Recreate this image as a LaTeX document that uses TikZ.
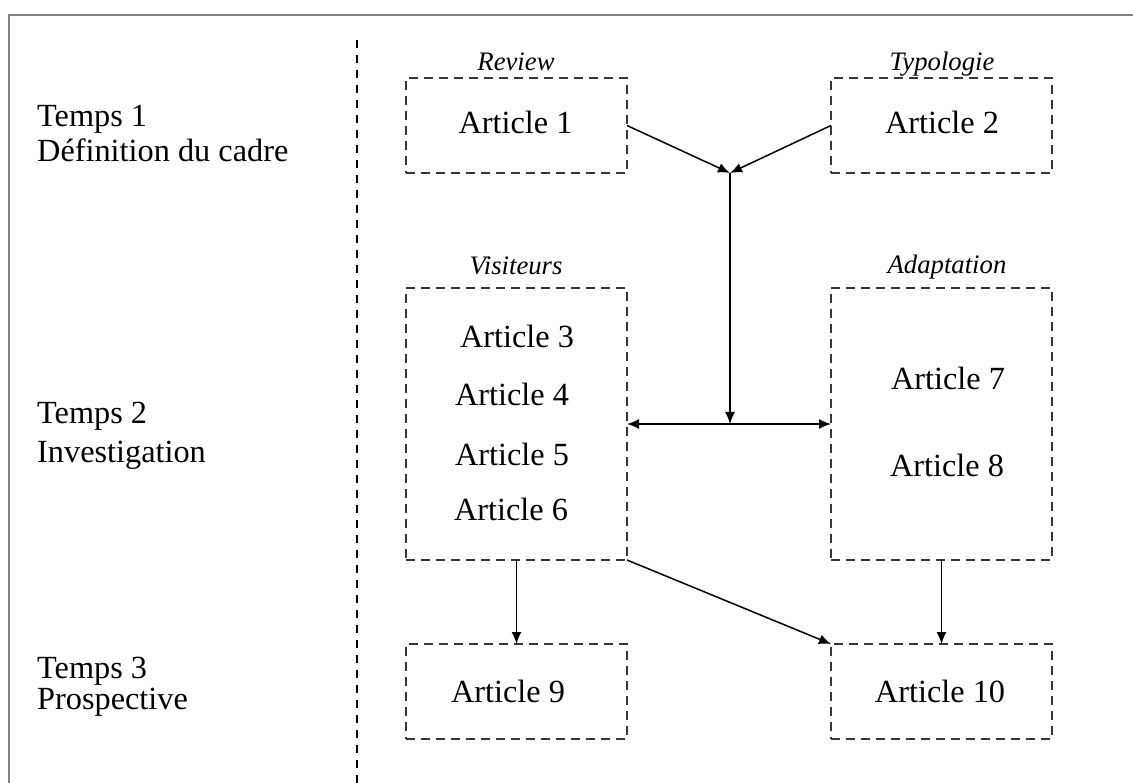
\documentclass[tikz,border=0pt]{standalone}
\usepackage{fontspec}
\setmainfont{Liberation Serif}
\usetikzlibrary{arrows.meta}
\definecolor{dashgray}{RGB}{55,55,55}
\definecolor{framegray}{RGB}{130,130,130}
\tikzset{
  box/.style={draw=dashgray, line width=1.6pt, dash pattern=on 9pt off 6pt, inner sep=0pt, outer sep=0pt, minimum width=221pt},
  txt/.style={anchor=base, inner sep=0pt, font=\fontsize{32.3}{38}\selectfont},
  lbl/.style={anchor=base west, inner sep=0pt, font=\fontsize{32.3}{38}\selectfont},
  ital/.style={anchor=base, inner sep=0pt, font=\fontsize{26.7}{31}\selectfont\itshape},
  conn/.style={draw=black, line width=1.5pt, -{Latex[length=12pt,width=10pt]}},
  dconn/.style={draw=black, line width=1.5pt, {Latex[length=12pt,width=10pt]}-{Latex[length=12pt,width=10pt]}},
  sep/.style={draw=black, line width=1.2pt, dash pattern=on 8pt off 7pt}
}
\begin{document}
\begin{tikzpicture}[x=1pt,y=-1pt]
\useasboundingbox[fill=white] (0,0) rectangle (1133,783);
% frame
\draw[framegray, line width=2.2pt] (9,783) -- (9,15) -- (1133,15);
% separator
\coordinate (s1) at (357,40);
\coordinate (s2) at (357,783);
\draw[sep] (s1) -- (s2);
% left labels
\node[lbl] (l1a) at (37,127) {Temps 1};
\node[lbl] (l1b) at (37,162) {Définition du cadre};
\node[lbl] (l2a) at (37,424) {Temps 2};
\node[lbl] (l2b) at (37,463) {Investigation};
\node[lbl] (l3a) at (37,678) {Temps 3};
\node[lbl] (l3b) at (37,709) {Prospective};
% boxes
\node[box, minimum height=95pt] (b1) at (516.5,125.5) {};
\node[box, minimum height=95pt] (b2) at (941.5,125.5) {};
\node[box, minimum height=272pt] (bv) at (516.5,424) {};
\node[box, minimum height=272pt] (ba) at (941.5,424) {};
\node[box, minimum height=95pt] (b9) at (516.5,691.5) {};
\node[box, minimum height=95pt] (b10) at (941.5,691.5) {};
% italic headings
\node[ital] (h1) at (516,71) {Review};
\node[ital] (h2) at (942,71) {Typologie};
\node[ital] (h3) at (516,275) {Visiteurs};
\node[ital] (h4) at (947,274) {Adaptation};
% texts
\node[txt] (a1) at (515.5,134) {Article 1};
\node[txt] (a2) at (942,134) {Article 2};
\node[txt] (a3) at (517,348) {Article 3};
\node[txt] (a4) at (512,406) {Article 4};
\node[txt] (a5) at (512,465) {Article 5};
\node[txt] (a6) at (511,520) {Article 6};
\node[txt] (a7) at (948,390) {Article 7};
\node[txt] (a8) at (947,477) {Article 8};
\node[txt] (a9) at (508,702) {Article 9};
\node[txt] (a10) at (940,702) {Article 10};
% connectors
\coordinate (J) at (730,173);
\coordinate (M) at (730,424);
\draw[conn] (b1.east) -- (J);
\draw[conn] (b2.west) -- (J);
\draw[conn] (J) -- (M);
\draw[dconn] (bv.east) -- (ba.west);
\draw[conn] (bv.south) -- (b9.north);
\draw[conn] (bv.south east) -- (b10.north west);
\draw[conn] (ba.south) -- (b10.north);
\end{tikzpicture}
\end{document}
